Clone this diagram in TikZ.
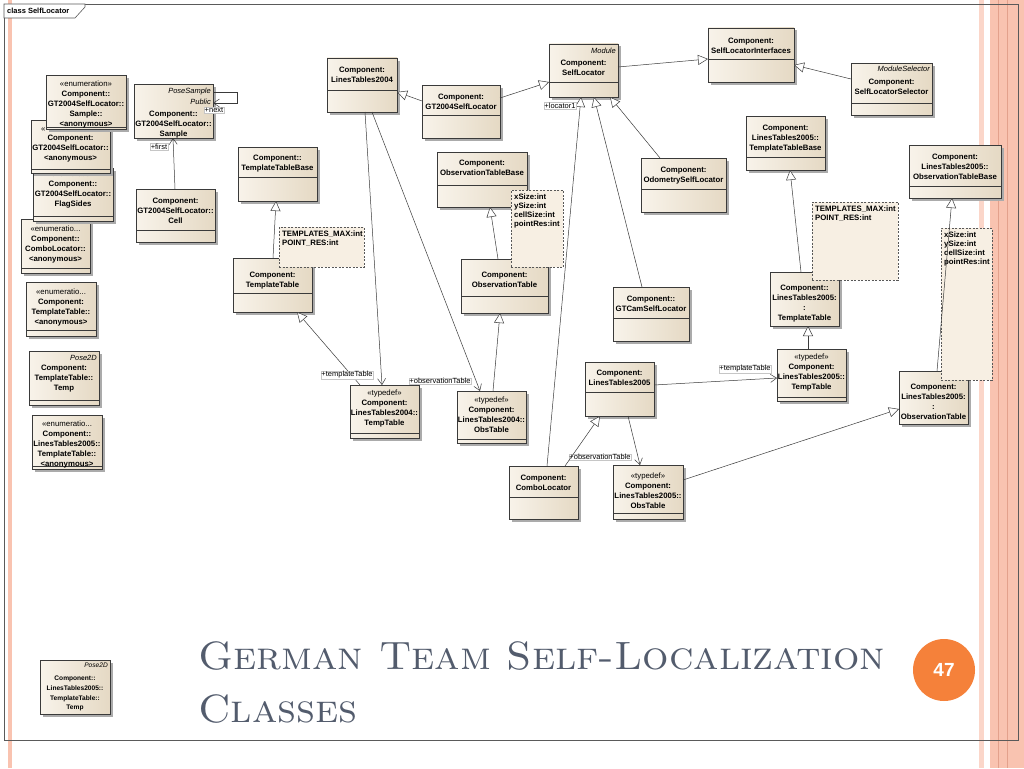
\documentclass[tikz,border=0pt]{standalone}
\usepackage{fontspec}
\setsansfont{Liberation Sans}
\usetikzlibrary{arrows.meta,fit,calc}
\definecolor{boxl}{HTML}{F8F3EA}
\definecolor{boxr}{HTML}{E5D9C4}
\definecolor{notef}{HTML}{F7EFE3}
\definecolor{edge}{HTML}{3A3A3A}
\definecolor{shad}{HTML}{ABABAB}
\definecolor{salm}{HTML}{F9C3B0}
\definecolor{salml}{HTML}{FBD6C9}
\definecolor{salmd}{HTML}{E3A18C}
\definecolor{titlec}{HTML}{535C6D}
\definecolor{orng}{HTML}{F5813A}
\definecolor{framec}{HTML}{5A5A5A}
\tikzset{
 ubody/.style={draw=edge, line width=0.7pt, inner sep=0pt, outer sep=0pt, left color=boxl, right color=boxr},
 uline/.style={draw=edge, line width=0.7pt},
 utext/.style={font=\sffamily\bfseries\fontsize{7.8}{9.8}\selectfont, align=center, inner sep=0pt, text=black},
 usmall/.style={font=\sffamily\bfseries\fontsize{6.6}{9.7}\selectfont, align=center, inner sep=0pt, text=black},
 ustereo/.style={font=\sffamily\itshape\fontsize{7.5}{10.5}\selectfont, inner sep=0pt, anchor=north east, align=right},
 unote/.style={draw=edge!85, dash pattern=on 2pt off 1.5pt, line width=0.6pt, fill=notef, inner sep=0pt, outer sep=0pt},
 ntext/.style={font=\sffamily\bfseries\fontsize{7.8}{9}\selectfont, align=left, inner sep=0pt, anchor=north west},
 gen/.style={draw=edge, line width=0.5pt, -{Triangle[open, length=10pt, width=10pt, fill=white]}},
 assoc/.style={draw=edge, line width=0.5pt, -{Straight Barb[length=6pt, width=8pt]}},
 alabel/.style={font=\sffamily\fontsize{7.5}{9}\selectfont, draw=gray!45, fill=white, inner sep=0.6pt, line width=0.3pt},
}
% name, x1, y1, x2, y2, compartment line y (0 = none), text offset, text
\newcommand\ubox[8]{%
 \fill[shad] (#2+2.5,#3+2.5) rectangle (#4+2.5,#5+2.5);
 \node[ubody, fit={(#2,#3) (#4,#5)}] (#1) {};
 \ifnum#6>0 \draw[uline] (#2,#6) -- (#4,#6);\fi
 \node[utext, anchor=north] (#1-t) at ([yshift=-#7pt]#1.north) {#8};
}
\newcommand\unote[6]{%
 \node[unote, fit={(#2,#3) (#4,#5)}] (#1) {};
 \node[ntext] (#1-t) at ([xshift=3pt,yshift=-4pt]#1.north west) {#6};
}
\newcommand\st[1]{{\mdseries #1}}
\newsavebox\tbox
\begin{document}
\sbox\tbox{\fontsize{39.5}{44}\selectfont\textsc{German Team Self-Localization}}%
\pgfmathsetmacro\tsx{687/\wd\tbox}%
\begin{tikzpicture}[x=1pt,y=-1pt]
\useasboundingbox (0,0) rectangle (1024,768);
\fill[white] (0,0) rectangle (1024,768);
% slide stripes
\fill[salm] (7.5,0) rectangle (12,768);
\fill[salml] (979,0) rectangle (983.5,768);
\fill[salm] (990,0) rectangle (1024,768);
\draw[salmd, line width=0.8pt] (998,0) -- (998,768) (1007,0) -- (1007,768);
% diagram frame
\draw[framec, line width=0.7pt] (4,4) rectangle (1018,740);
\draw[framec, line width=0.6pt, fill=white] (4,4) -- (85,4) -- (85,7) -- (75,18) -- (4,18) -- cycle;
\node[font=\sffamily\bfseries\fontsize{7.5}{9}\selectfont, anchor=west, inner sep=0pt] (frametab) at (7,11) {class SelfLocator};

% enumerations on the left
\ubox{enD}{21}{219}{90}{273}{268}{7}{\st{«enumeratio...}\\Component::\\ComboLocator::\\<anonymous>}
\ubox{enC}{33}{168}{113}{221}{216}{3}{\st{«enumeration»}\\Component::\\GT2004SelfLocator::\\FlagSides}
\ubox{enB}{31}{120}{110}{173}{169}{15}{Component:\\GT2004SelfLocator::\\<anonymous>}
\node[font=\sffamily\fontsize{7.8}{9}\selectfont, inner sep=0pt, anchor=west] (enB-s) at (41,130) {«};
\ubox{enA}{46}{75}{126}{129}{127}{6}{\st{«enumeration»}\\Component::\\GT2004SelfLocator::\\Sample::\\<anonymous>}
\ubox{enE}{26}{282}{96}{336}{330}{7}{\st{«enumeratio...}\\Component:\\TemplateTable::\\<anonymous>}
\ubox{poseA}{29}{351}{99}{405}{400}{14}{Component:\\TemplateTable::\\Temp}
\node[ustereo] (poseA-s) at ([xshift=-2pt,yshift=-4pt]poseA.north east) {Pose2D};
\ubox{enF}{32}{415}{102}{469}{466}{6}{\st{«enumeratio...}\\Component::\\LinesTables2005::\\TemplateTable::\\<anonymous>}

% GT2004 sample / cell
\ubox{sample}{134}{84}{213}{138}{0}{27}{Component::\\GT2004SelfLocator::\\Sample}
\node[ustereo] (sample-s) at ([xshift=-2pt,yshift=-4pt]sample.north east) {PoseSample\\Public};
\ubox{cell}{136}{189}{215}{242}{230}{9}{Component:\\GT2004SelfLocator::\\Cell}

% 2004 tables
\ubox{ttb}{238}{147}{317}{201}{177}{8}{Component::\\TemplateTableBase}
\ubox{tt}{233}{258}{312}{312}{293}{14}{Component:\\TemplateTable}
\ubox{otb}{437}{152}{527}{207}{185}{8}{Component:\\ObservationTableBase}
\ubox{ot}{461}{259}{548}{313}{296}{13}{Component:\\ObservationTable}
\ubox{l2004}{327}{58}{397}{112}{90}{9}{Component:\\LinesTables2004}
\ubox{gt2004}{422}{85}{500}{138}{115}{9}{Component:\\GT2004SelfLocator}
\ubox{tmp4}{350}{385}{419}{438}{433}{5}{\st{«typedef»}\\Component:\\LinesTables2004::\\TempTable}
\ubox{obs4}{457}{391}{526}{443}{439}{6}{\st{«typedef»}\\Component:\\LinesTables2004::\\ObsTable}

% self locators
\ubox{selfloc}{549}{44}{618}{97}{82}{16}{Component:\\SelfLocator}
\node[ustereo] (selfloc-s) at ([xshift=-2pt,yshift=-4pt]selfloc.north east) {Module};
\ubox{odo}{641}{158}{726}{212}{189}{9}{Component:\\OdometrySelfLocator}
\ubox{gtcam}{613}{287}{689}{341}{318}{9}{Component::\\GTCamSelfLocator}
\ubox{sli}{708}{28}{794}{82}{59}{10}{Component:\\SelfLocatorInterfaces}
\ubox{sls}{851}{63}{932}{115}{103}{16}{Component:\\SelfLocatorSelector}
\node[ustereo] (sls-s) at ([xshift=-2pt,yshift=-3pt]sls.north east) {ModuleSelector};

% 2005 tables
\ubox{ttb5}{746}{116}{825}{170}{157}{9}{Component:\\LinesTables2005::\\TemplateTableBase}
\ubox{tt5}{770}{272}{839}{326}{0}{13}{Component::\\LinesTables2005:\\:\\TemplateTable}
\ubox{otb5}{909}{145}{1001}{198}{186}{9}{Component:\\LinesTables2005::\\ObservationTableBase}
\ubox{ot5}{899}{371}{968}{424}{0}{13}{Component:\\LinesTables2005:\\:\\ObservationTable}
\ubox{tmp5}{777}{349}{846}{401}{397}{5}{\st{«typedef»}\\Component:\\LinesTables2005::\\TempTable}
\ubox{lt5}{585}{362}{654}{416}{392}{8}{Component:\\LinesTables2005}
\ubox{combo}{509}{466}{578}{519}{497}{9}{Component:\\ComboLocator}
\ubox{obs5}{613}{465}{683}{519}{513}{8}{\st{«typedef»}\\Component:\\LinesTables2005::\\ObsTable}

% bottom-left Pose2D
\fill[shad] (42.5,662.5) rectangle (112.5,716.5);
\node[ubody, fit={(40,660) (110,714)}] (pose5) {};
\node[usmall, anchor=north] (pose5-t) at ([yshift=-16pt]pose5.north) {Component::\\LinesTables2005::\\TemplateTable::\\Temp};
\node[ustereo, font=\sffamily\itshape\fontsize{6.6}{9}\selectfont] (pose5-s) at ([xshift=-2pt,yshift=-3pt]pose5.north east) {Pose2D};

% notes
\unote{note1}{279}{227}{364}{267}{TEMPLATES\_MAX:int\\POINT\_RES:int}
\unote{note2}{511}{190}{563}{267}{xSize:int\\ySize:int\\cellSize:int\\pointRes:int}
\unote{note3}{812}{202}{898}{280}{TEMPLATES\_MAX:int\\POINT\_RES:int}
\unote{note4}{941}{228}{992}{380}{xSize:int\\ySize:int\\cellSize:int\\pointRes:int}

% connectors
\draw[assoc] ([xshift=39pt]cell.north west) -- ([xshift=39pt]sample.south west);
\node[alabel] (lfirst) at (159,147) {+first};
\draw[assoc] ([yshift=-8pt]sample.north east) -- ++(24pt,0) |- ([yshift=-19pt]sample.north east);
\node[alabel] (lnext) at (214,110) {+next};
\draw[gen] ([xshift=40pt]tt.north west) -- ([xshift=38pt]ttb.south west);
\draw[gen] ([xshift=10pt]tmp4.north west) -- ([xshift=64pt]tt.south west);
\draw[assoc] ([xshift=38pt]l2004.south west) -- ([xshift=32pt]tmp4.north west);
\node[alabel] (ltt4) at (347,375) {+templateTable};
\draw[assoc] ([xshift=45pt]l2004.south west) -- ([xshift=23pt]obs4.north west);
\node[alabel] (lot4) at (440,381) {+observationTable};
\draw[gen] ([xshift=36pt]obs4.north west) -- ([xshift=39pt]ot.south west);
\draw[gen] ([xshift=37pt]ot.north west) -- ([xshift=53pt]otb.south west);
\draw[gen] ([yshift=-16pt]gt2004.north west) -- ([yshift=-34pt]l2004.north east);
\draw[gen] ([yshift=-13pt]gt2004.north east) -- ([yshift=-38pt]selfloc.north west);
\draw[gen] ([yshift=-23pt]selfloc.north east) -- ([yshift=-31pt]sli.north west);
\draw[gen] ([yshift=-16pt]sls.north west) -- ([yshift=-37pt]sli.north east);
\draw[gen] ([xshift=38pt]combo.north west) -- ([xshift=32pt]selfloc.south west);
\node[alabel] (lloc) at (560,106) {+locator1};
\draw[gen] ([xshift=29pt]gtcam.north west) -- ([xshift=45pt]selfloc.south west);
\draw[gen] ([xshift=19pt]odo.north west) -- ([xshift=61pt]selfloc.south west);
\draw[gen] ([xshift=31pt]tt5.north west) -- ([xshift=44pt]ttb5.south west);
\draw[gen] ([xshift=31pt]tmp5.north west) -- ([xshift=38pt]tt5.south west);
\draw[gen] ([xshift=38pt]ot5.north west) -- ([xshift=43pt]otb5.south west);
\draw[assoc] ([yshift=-23pt]lt5.north east) -- ([yshift=-29pt]tmp5.north west);
\node[alabel] (ltt5) at (745,369) {+templateTable};
\draw[assoc] ([xshift=43pt]lt5.south west) -- ([xshift=27pt]obs5.north west);
\node[alabel] (lot5) at (600,457) {+observationTable};
\draw[gen] ([xshift=56pt]combo.north west) -- ([xshift=15pt]lt5.south west);
\draw[gen] ([yshift=-15pt]obs5.north east) -- ([yshift=-38pt]ot5.north west);

% title
\node[anchor=base west, inner sep=0pt, text=titlec] (title1) at (198,669) {\scalebox{\tsx}[1]{\fontsize{39.5}{44}\selectfont\textsc{German Team Self-Localization}}};
\node[anchor=base west, inner sep=0pt, text=titlec] (title2) at (198,722) {\scalebox{\tsx}[1]{\fontsize{39.5}{44}\selectfont\textsc{Classes}}};
% page number
\node[circle, fill=orng, minimum size=62pt, inner sep=0pt, text=white, font=\sffamily\bfseries\fontsize{19}{19}\selectfont] (pnum) at (944,670) {47};
\end{tikzpicture}
\end{document}
